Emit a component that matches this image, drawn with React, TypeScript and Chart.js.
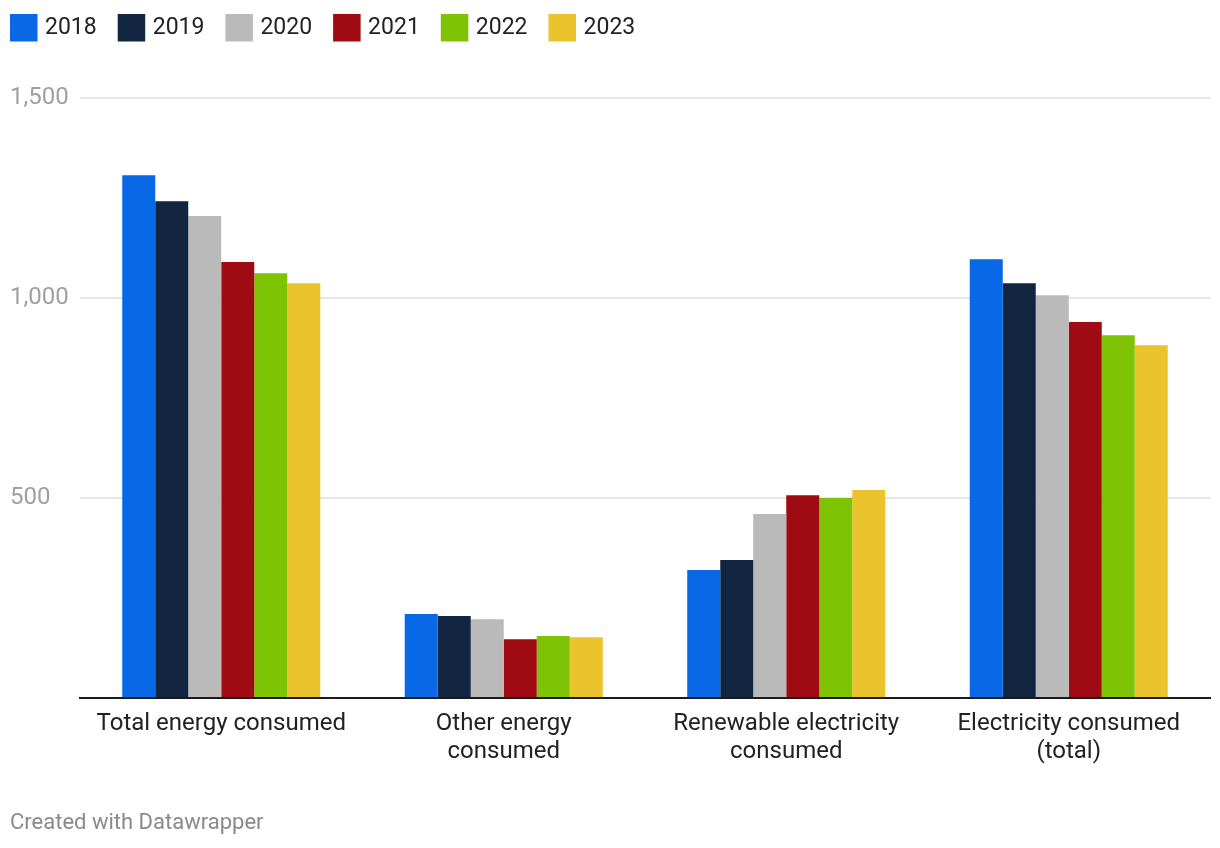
import React, { useEffect, useRef } from "react";
import { Chart, registerables } from "chart.js";

Chart.register(...registerables);

const categories: (string | string[])[] = [
  "Total energy consumed",
  ["Other energy", "consumed"],
  ["Renewable electricity", "consumed"],
  ["Electricity consumed", "(total)"],
];

const years = ["2018", "2019", "2020", "2021", "2022", "2023"];
const colors = ["#0868e6", "#122641", "#bababa", "#9e0b12", "#7fc305", "#ebc42d"];

const v2018 = [1307, 210, 320, 1097];
const v2019 = [1242, 205, 345, 1037];
const v2020 = [1205, 197, 460, 1007];
const v2021 = [1090, 147, 507, 940];
const v2022 = [1062, 155, 500, 907];
const v2023 = [1037, 152, 520, 882];
const seriesValues = [v2018, v2019, v2020, v2021, v2022, v2023];

const yTicks = [500, 1000, 1500];
const footerText = "Created with Datawrapper";
const FONT = "Roboto, 'Noto Sans', sans-serif";

const overlayPlugin = {
  id: "overlay",
  afterDraw(chart: any) {
    const ctx = chart.ctx as CanvasRenderingContext2D;
    ctx.save();
    // legend
    ctx.font = `23px ${FONT}`;
    ctx.textBaseline = "middle";
    ctx.textAlign = "left";
    let x = 10;
    chart.data.datasets.forEach((ds: any) => {
      ctx.fillStyle = ds.backgroundColor;
      ctx.fillRect(x, 14, 27.5, 27.5);
      ctx.fillStyle = "#222222";
      ctx.fillText(ds.label, x + 35, 28);
      x = x + 35 + ctx.measureText(ds.label).width + 21;
    });
    // footer
    ctx.font = `22px ${FONT}`;
    ctx.fillStyle = "#8a8a8a";
    ctx.fillText(footerText, 10, 823);
    ctx.restore();
  },
};

export default function App() {
  const ref = useRef<HTMLCanvasElement | null>(null);

  useEffect(() => {
    if (!ref.current) return;
    const chart = new Chart(ref.current, {
      type: "bar",
      data: {
        labels: categories,
        datasets: years.map((y, i) => ({
          label: y,
          data: seriesValues[i],
          backgroundColor: colors[i],
          borderWidth: 0,
          categoryPercentage: 0.701,
          barPercentage: 1.0,
        })),
      },
      options: {
        responsive: false,
        animation: false,
        maintainAspectRatio: false,
        layout: { padding: { top: 98, left: 10, right: 10, bottom: 0 } },
        plugins: {
          legend: { display: false },
          tooltip: { enabled: false },
        },
        scales: {
          x: {
            grid: { display: false, drawTicks: false },
            border: { display: true, color: "#1a1a1a", width: 2 },
            ticks: {
              color: "#222222",
              font: { family: FONT, size: 24, lineHeight: 1.167 },
              padding: 12,
              maxRotation: 0,
              autoSkip: false,
            },
            afterFit(scale: any) {
              scale.height = 150;
            },
          },
          y: {
            min: 0,
            max: 1500,
            afterBuildTicks(scale: any) {
              scale.ticks = [0, ...yTicks].map((v) => ({ value: v }));
            },
            grid: {
              drawTicks: false,
              lineWidth: 2,
              color: (c: any) => (c.tick && c.tick.value === 0 ? "rgba(0,0,0,0)" : "#e6e6e6"),
            },
            border: { display: false },
            ticks: {
              color: "#a0a0a0",
              crossAlign: "far",
              font: { family: FONT, size: 24 },
              callback: (v: any) => (v === 0 ? "" : Number(v).toLocaleString("en-US")),
            },
            afterFit(scale: any) {
              scale.width = 70;
            },
          },
        },
      } as any,
      plugins: [overlayPlugin],
    });
    return () => chart.destroy();
  }, []);

  return (
    <div style={{ position: "fixed", left: 0, top: 0, width: 1220, height: 848, background: "#fff" }}>
      <canvas ref={ref} width={1220} height={848} style={{ width: 1220, height: 848, display: "block" }} />
    </div>
  );
}
